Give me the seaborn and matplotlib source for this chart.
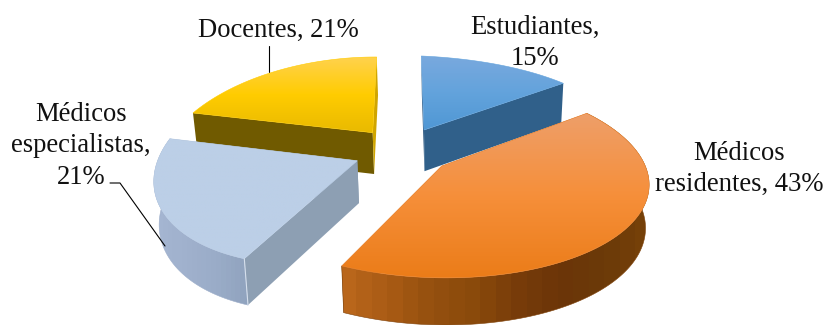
import numpy as np
import matplotlib
matplotlib.use("Agg")
import matplotlib.pyplot as plt
import seaborn as sns
from matplotlib.colors import LinearSegmentedColormap
from matplotlib.patches import Polygon

sns.set_theme(style="white")
plt.rcParams["font.family"] = ["Liberation Serif", "DejaVu Sans"]

# Data (clockwise from 12 o'clock)
categories = ["Estudiantes", "Médicos residentes", "Médicos especialistas", "Docentes"]
shares = [15, 43, 21, 21]

# Look of each slice, in the same order as categories
palette = ["#5b9bd5", "#ed7d31", "#bccfe7", "#ffc000"]
top_shades = [
    ["#7aa9de", "#63a3dc", "#4f97d4"],
    ["#ee9f6a", "#f68f3a", "#eb7c18"],
    ["#bccfe7", "#bccfe7", "#bccfe7"],
    ["#ffd24f", "#ffcc00", "#e8b900"],
]
# cut faces: first the clockwise start edge, then the clockwise end edge
wall_colors = [
    ("#2f5a82", "#30608a"),
    ("#7a3f0c", "#7a3f0c"),
    ("#8d9fb3", "#8d9fb3"),
    ("#705a00", "#d0a500"),
]
# rim shades from the left of the slice to its right
rim_shades = [
    None,
    ["#b9661b", "#a85a14", "#94500f", "#8a4a0b", "#783c0a", "#6c3508", "#6b3a08", "#754008"],
    ["#a5b6d2", "#a0b1cd", "#9aacc8", "#90a3be"],
    None,
]

# Picture position of each exploded slice: tip, clockwise start, clockwise end, middle of arc
corners = [
    [(424, 130), (421.3, 56), (563.3, 83.3), (500, 65)],
    [(441.7, 166), (586.7, 113.3), (341.7, 266), (622, 232)],
    [(357.3, 160.7), (244.3, 258.7), (170, 138.7), (163, 212)],
    [(372.7, 132.7), (193, 113), (376.7, 57), (280, 70)],
]
draw_order = [3, 0, 2, 1]


def fit_homography(src, dst):
    rows, rhs = [], []
    for (x, y), (u, v) in zip(src, dst):
        rows.append([x, y, 1, 0, 0, 0, -u * x, -u * y])
        rows.append([0, 0, 0, x, y, 1, -v * x, -v * y])
        rhs += [u, v]
    h = np.linalg.solve(np.array(rows, float), np.array(rhs, float))
    return np.append(h, 1).reshape(3, 3)


def project(h, pts):
    pts = np.column_stack([pts, np.ones(len(pts))]) @ h.T
    return pts[:, :2] / pts[:, 2:]


def drop(pts):
    # the lower face of the slice, shifted by the extrusion depth
    pts = np.asarray(pts, float)
    return pts + np.column_stack([0.018 * (450 - pts[:, 0]), 36 + 0.04 * pts[:, 1]])


def unit(t):
    return np.column_stack([np.cos(np.radians(t)), np.sin(np.radians(t))])


def shaded(outline, cmap, z, horizontal=False):
    # gradient image clipped to a polygon
    x0, y0 = outline.min(axis=0)
    x1, y1 = outline.max(axis=0)
    if horizontal:
        grad = cmap(np.linspace(0, 1, 20))[None, :, :]
    else:
        grad = cmap(np.linspace(0, 1, 200))[:, None, :]
    im = ax.imshow(grad, extent=(x0 - 1, x1 + 1, y1 + 1, y0 - 1), aspect="auto",
                   interpolation="nearest" if horizontal else "bilinear", zorder=z)
    edge = Polygon(outline, fc="none", ec=cmap(0.5), lw=0.4, zorder=z)
    ax.add_patch(edge)
    im.set_clip_path(edge)


fig = plt.figure(figsize=(8.25, 3.25), dpi=100)
ax = fig.add_axes([0, 0, 1, 1])

# ax.pie turns the shares into angles, the tilted slices are then built from those
wedges, _ = ax.pie(shares, colors=palette, startangle=90, counterclock=False)
angles = [(w.theta1, w.theta2) for w in wedges]
for w in wedges:
    w.remove()
ax.set_aspect("auto")
ax.axis("off")

for n, i in enumerate(draw_order):
    z = 2 + n * 0.1
    t1, t2 = angles[i]
    src = np.vstack([[[0, 0]], unit(np.array([t2, t1, (t1 + t2) / 2]))])
    h = fit_homography(src, corners[i])
    arc = project(h, unit(np.linspace(t2, t1, 181)))
    tip = np.array(corners[i][0], float)
    tip_low = drop([tip])[0]
    arc_low = drop(arc)

    # cut faces
    for end, end_low, col in [(arc[0], arc_low[0], wall_colors[i][0]),
                              (arc[-1], arc_low[-1], wall_colors[i][1])]:
        ax.add_patch(Polygon([tip, end, end_low, tip_low], fc=col, ec="none", zorder=z))

    # outer rim, banded from left to right like the original
    if rim_shades[i] is not None:
        cmap = LinearSegmentedColormap.from_list("rim", rim_shades[i])
        shaded(np.vstack([arc, arc_low[::-1]]), cmap, z + 0.01, horizontal=True)

    # top face with vertical gradient
    cmap = LinearSegmentedColormap.from_list("top", top_shades[i])
    shaded(np.vstack([[tip], arc]), cmap, z + 0.02)

    # pale highlight where the rim meets the front cut of the pale slice
    if i == 2:
        ax.plot([arc[0, 0], arc_low[0, 0]], [arc[0, 1], arc_low[0, 1]],
                color="#d5dfec", lw=0.8, zorder=z + 0.03)

ax.set_xlim(0, 825)
ax.set_ylim(325, 0)

# Labels and leader lines
label_size = 19.2
spacing = 1.33
text_opts = dict(ha="center", va="center", fontsize=label_size, color="#111111",
                 zorder=5, linespacing=spacing)
ax.text(278, 30, f"Docentes, {shares[3]}%", **text_opts)
ax.text(535, 43, f"Estudiantes,\n{shares[0]}%", **text_opts)
ax.text(739, 169, f"Médicos\nresidentes, {shares[1]}%", **text_opts)
ax.text(81, 146, f"Médicos\nespecialistas,\n{shares[2]}%", **text_opts)
ax.plot([269, 269], [46, 72], color="black", lw=0.8, zorder=1)
ax.plot([110, 120, 165], [183, 183, 246], color="black", lw=0.8, zorder=5)

fig.savefig("out.png", dpi=100)
